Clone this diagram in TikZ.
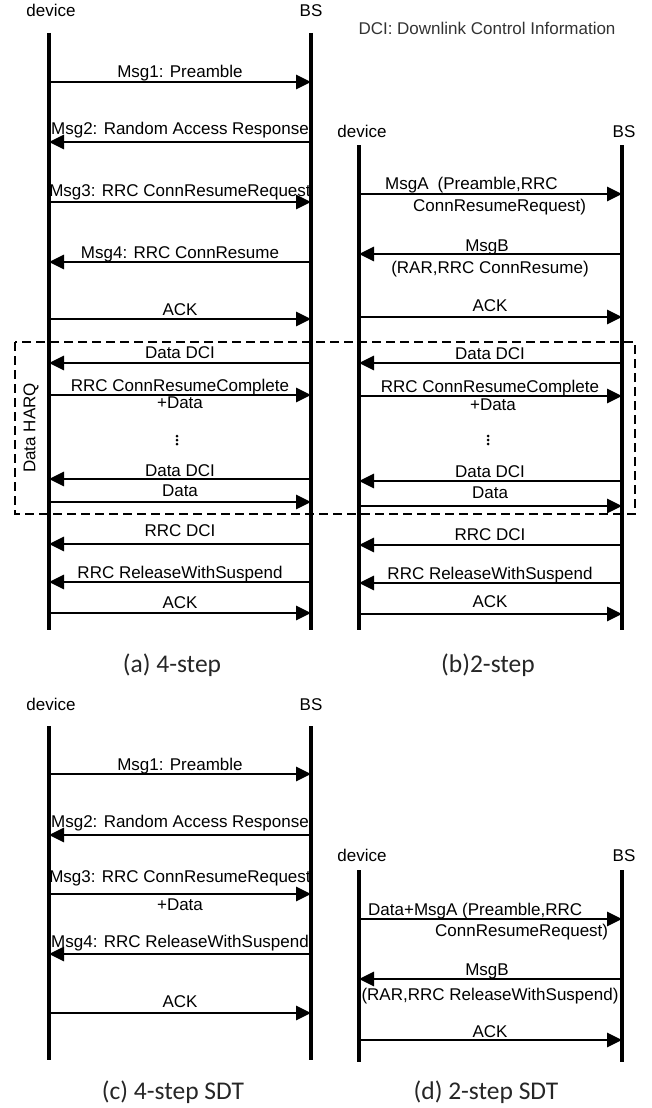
\documentclass[tikz,border=0pt]{standalone}
\usepackage{fontspec}
\setmainfont{Liberation Sans}
\newfontfamily\capfont{Carlito}
\usetikzlibrary{arrows.meta,calc}
\begin{document}
\begin{tikzpicture}[x=1pt,y=-1pt,
 life/.style={line width=3.2pt},
 msg/.style={line width=2.8pt,-{Triangle[length=15pt,width=14pt]}},
 lbl/.style={inner sep=0pt,anchor=base,font=\fontsize{17}{20}\selectfont},
 lblw/.style={lbl,anchor=base west},
 captxt/.style={inner sep=0pt,anchor=base,font=\capfont\fontsize{25.5}{30}\selectfont,text=black!85},
 harqbox/.style={draw,dash pattern=on 9pt off 5pt,line width=1.3pt},
 vdot/.style={fill,circle,inner sep=0pt,minimum size=3pt}]
\useasboundingbox (0,0) rectangle (651,1108);

% ---------------- (a) 4-step ----------------
\coordinate (aL) at (49,0);
\coordinate (aR) at (311,0);
\node[lbl] (devA) at (51,17) {device};
\node[lbl] (bsA) at (311,17) {BS};
\draw[life] ($(aL)+(0,33)$) -- ($(aL)+(0,630)$);
\draw[life] ($(aR)+(0,33)$) -- ($(aR)+(0,630)$);

\draw[msg] ($(aL)+(0,82)$) -- ($(aR)+(0,82)$);
\node[lbl] (a1) at (180,77.5) {Msg1: Preamble};
\draw[msg] ($(aR)+(0,142)$) -- ($(aL)+(0,142)$);
\node[lbl] (a2) at (180,134) {Msg2: Random Access Response};
\draw[msg] ($(aL)+(0,202)$) -- ($(aR)+(0,202)$);
\node[lbl] (a3) at (180,196) {Msg3: RRC ConnResumeRequest};
\draw[msg] ($(aR)+(0,262)$) -- ($(aL)+(0,262)$);
\node[lbl] (a4) at (180,258) {Msg4: RRC ConnResume};
\draw[msg] ($(aL)+(0,319)$) -- ($(aR)+(0,319)$);
\node[lbl] (a5) at (180,315) {ACK};
\draw[msg] ($(aR)+(0,363)$) -- ($(aL)+(0,363)$);
\node[lbl] (a6) at (180,358) {Data DCI};
\draw[msg] ($(aL)+(0,395)$) -- ($(aR)+(0,395)$);
\node[lbl] (a7) at (180,391) {RRC ConnResumeComplete};
\node[lbl] (a7b) at (180,408) {+Data};
\node[vdot] (ad1) at (177,436) {};
\node[vdot] (ad2) at (177,440) {};
\node[vdot] (ad3) at (177,444) {};
\draw[msg] ($(aR)+(0,479)$) -- ($(aL)+(0,479)$);
\node[lbl] (a8) at (180,476) {Data DCI};
\draw[msg] ($(aL)+(0,502)$) -- ($(aR)+(0,502)$);
\node[lbl] (a9) at (180,496) {Data};
\draw[msg] ($(aR)+(0,544)$) -- ($(aL)+(0,544)$);
\node[lbl] (a10) at (180,536) {RRC DCI};
\draw[msg] ($(aR)+(0,582)$) -- ($(aL)+(0,582)$);
\node[lbl] (a11) at (180,578) {RRC ReleaseWithSuspend};
\draw[msg] ($(aL)+(0,613)$) -- ($(aR)+(0,613)$);
\node[lbl] (a12) at (180,608) {ACK};

% HARQ box
\draw[harqbox] (15,342) rectangle (635,514);
\node[rotate=90,inner sep=0pt,font=\fontsize{17}{20}\selectfont] (harq) at (31,428) {Data HARQ};

% ---------------- (b) 2-step ----------------
\node[lbl,text=black!80] (note) at (487,35) {DCI: Downlink Control Information};
\coordinate (bL) at (359,0);
\coordinate (bR) at (622,0);
\node[lbl] (devB) at (362,137) {device};
\node[lbl] (bsB) at (624,137) {BS};
\draw[life] ($(bL)+(0,145)$) -- ($(bL)+(0,630)$);
\draw[life] ($(bR)+(0,145)$) -- ($(bR)+(0,630)$);

\draw[msg] ($(bL)+(0,194)$) -- ($(bR)+(0,194)$);
\node[lblw] (b1) at (385,189) {MsgA\hspace{9pt}(Preamble,RRC};
\node[lblw] (b1b) at (413,211) {ConnResumeRequest)};
\draw[msg] ($(bR)+(0,254)$) -- ($(bL)+(0,254)$);
\node[lbl] (b2) at (487,251) {MsgB};
\node[lbl] (b2b) at (490,273) {(RAR,RRC ConnResume)};
\draw[msg] ($(bL)+(0,317)$) -- ($(bR)+(0,317)$);
\node[lbl] (b3) at (490,311) {ACK};
\draw[msg] ($(bR)+(0,363)$) -- ($(bL)+(0,363)$);
\node[lbl] (b4) at (490,359) {Data DCI};
\draw[msg] ($(bL)+(0,396)$) -- ($(bR)+(0,396)$);
\node[lbl] (b5) at (490,392) {RRC ConnResumeComplete};
\node[lbl] (b5b) at (493,410) {+Data};
\node[vdot] (bd1) at (488,436) {};
\node[vdot] (bd2) at (488,440) {};
\node[vdot] (bd3) at (488,444) {};
\draw[msg] ($(bR)+(0,481)$) -- ($(bL)+(0,481)$);
\node[lbl] (b6) at (490,477) {Data DCI};
\draw[msg] ($(bL)+(0,506)$) -- ($(bR)+(0,506)$);
\node[lbl] (b7) at (490,498) {Data};
\draw[msg] ($(bR)+(0,545)$) -- ($(bL)+(0,545)$);
\node[lbl] (b8) at (490,540) {RRC DCI};
\draw[msg] ($(bR)+(0,583)$) -- ($(bL)+(0,583)$);
\node[lbl] (b9) at (490,579) {RRC ReleaseWithSuspend};
\draw[msg] ($(bL)+(0,614)$) -- ($(bR)+(0,614)$);
\node[lbl] (b10) at (490,607) {ACK};

\node[captxt] (capA) at (172,672) {(a) 4-step};
\node[captxt] (capB) at (488,672) {(b)2-step};

% ---------------- (c) 4-step SDT ----------------
\coordinate (cL) at (49,0);
\coordinate (cR) at (311,0);
\node[lbl] (devC) at (51,710) {device};
\node[lbl] (bsC) at (311,710) {BS};
\draw[life] ($(cL)+(0,726)$) -- ($(cL)+(0,1060)$);
\draw[life] ($(cR)+(0,726)$) -- ($(cR)+(0,1060)$);

\draw[msg] ($(cL)+(0,774)$) -- ($(cR)+(0,774)$);
\node[lbl] (c1) at (180,770) {Msg1: Preamble};
\draw[msg] ($(cR)+(0,835)$) -- ($(cL)+(0,835)$);
\node[lbl] (c2) at (180,827) {Msg2: Random Access Response};
\draw[msg] ($(cL)+(0,894)$) -- ($(cR)+(0,894)$);
\node[lbl] (c3) at (180,882) {Msg3: RRC ConnResumeRequest};
\node[lbl] (c3b) at (180,910) {+Data};
\draw[msg] ($(cR)+(0,954)$) -- ($(cL)+(0,954)$);
\node[lbl] (c4) at (180,947) {Msg4: RRC ReleaseWithSuspend};
\draw[msg] ($(cL)+(0,1013)$) -- ($(cR)+(0,1013)$);
\node[lbl] (c5) at (180,1007) {ACK};

% ---------------- (d) 2-step SDT ----------------
\coordinate (dL) at (359,0);
\coordinate (dR) at (622,0);
\node[lbl] (devD) at (362,861) {device};
\node[lbl] (bsD) at (624,861) {BS};
\draw[life] ($(dL)+(0,870)$) -- ($(dL)+(0,1062)$);
\draw[life] ($(dR)+(0,870)$) -- ($(dR)+(0,1062)$);

\draw[msg] ($(dL)+(0,919)$) -- ($(dR)+(0,919)$);
\node[lblw] (d1) at (368,915) {Data+MsgA (Preamble,RRC};
\node[lblw] (d1b) at (435,936) {ConnResumeRequest)};
\draw[msg] ($(dR)+(0,979)$) -- ($(dL)+(0,979)$);
\node[lbl] (d2) at (487,975) {MsgB};
\node[lbl] (d2b) at (490,1000) {(RAR,RRC ReleaseWithSuspend)};
\draw[msg] ($(dL)+(0,1040)$) -- ($(dR)+(0,1040)$);
\node[lbl] (d3) at (490,1037) {ACK};

\node[captxt] (capC) at (173,1099) {(c) 4-step SDT};
\node[captxt] (capD) at (486,1099) {(d) 2-step SDT};
\end{tikzpicture}
\end{document}
